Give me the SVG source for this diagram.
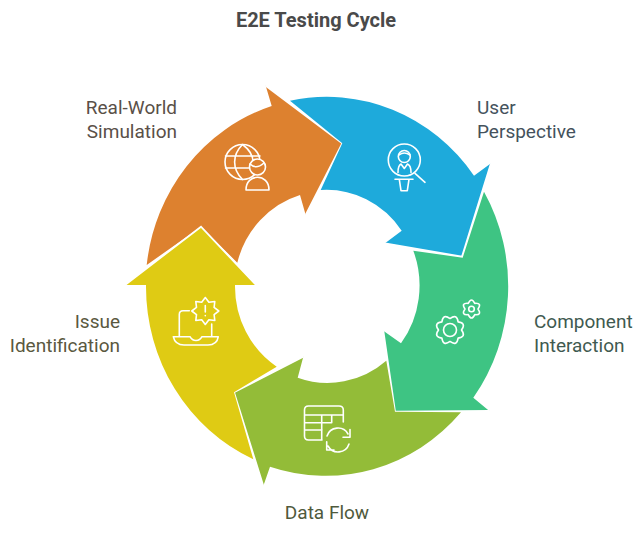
<svg xmlns="http://www.w3.org/2000/svg" width="640" height="535" viewBox="0 0 640 535">
<style>
text{font-family:Roboto,"Liberation Sans",sans-serif;font-size:19px}
.h{fill:none;stroke:#fff;stroke-width:1.8;stroke-linejoin:miter}
.i{fill:none;stroke:#fff;stroke-width:1.6;stroke-linecap:round;stroke-linejoin:round}
</style>
<rect width="640" height="535" fill="#fff"/>
<text x="316" y="27" text-anchor="middle" style="font-size:20px;font-weight:700" fill="#4a4a4a">E2E Testing Cycle</text>
<g id="connectors"/>
<g id="real-world">
<path fill="#dd812f" d="M146.700 265A181 189 0 0 1 271.700 106L265.700 85.700L342.300 143.300L305.700 215L300 195A92 96 0 0 0 237.300 262.700L201 226.700Z"/>
<path class="h" d="M265.700 85.700L342.300 143.300L305.700 215"/>
<g class="i"><circle cx="242.500" cy="162" r="17.500"/><path d="M242.500 144.500C232 155 232 169 242.500 179.500M242.500 144.500C250 150 253 157 253 162M225.500 156H260M225.500 168H250"/><circle cx="257.500" cy="167" r="8" fill="#dd812f"/><path d="M250 164Q256 170 264 163"/><path d="M246 190C246 173 269 173 269 190Z" fill="#dd812f"/></g>
<text x="177" y="114" text-anchor="end" fill="#5a5048">Real-World</text>
<text x="177" y="138" text-anchor="end" fill="#5a5048">Simulation</text>
</g>
<g id="user-perspective">
<path fill="#1eaadb" d="M290 100.700A181 189 0 0 1 474 175.700L491 163.300L462 256.700L385 243.300L401.700 230.700A92 96 0 0 0 320.700 190L342.300 143.300Z"/>
<path class="h" d="M491 163.300L462 256.700L385 243.300"/>
<g class="i"><circle cx="404.300" cy="160" r="16"/><path d="M415 173.300L425 182.300"/><circle cx="404.300" cy="156.500" r="6"/><path d="M399 155Q404 151 410 155M398 172.500C398 167 399 165 401 164L404.300 168.500L407.500 164C410 165 411 167 411 172.500M395 179.300H413M399.300 179.300L401 190.700H407.300L409 179.300"/></g>
<text x="477" y="114" fill="#44525c">User</text>
<text x="477" y="138" fill="#44525c">Perspective</text>
</g>
<g id="component">
<path fill="#3ec483" d="M484 191.700A181 189 0 0 1 473.300 397.700L489.300 411L395 411.700L383.300 330.700L401 343.300A92 96 0 0 0 413.300 250.700L462.700 257.700Z"/>
<path class="h" d="M489.300 411L395 411.700L383.300 330.700"/>
<g class="i"><circle cx="450" cy="330" r="6.500"/><path transform="translate(450 330) rotate(22.500)" d="M10.600 -4.400Q18 0 10.600 4.400Q12.700 12.700 4.400 10.600Q0 18 -4.400 10.600Q-12.700 12.700 -10.600 4.400Q-18 0 -10.600 -4.400Q-12.700 -12.700 -4.400 -10.600Q0 -18 4.400 -10.600Q12.700 -12.700 10.600 -4.400Z"/><circle cx="471.500" cy="309" r="2.800"/><path transform="translate(471.500 309)" d="M6.500 0Q10.800 6.250 3.250 5.630Q0 12.500 -3.250 5.630Q-10.800 6.250 -6.500 0Q-10.800 -6.250 -3.250 -5.630Q0 -12.500 3.250 -5.630Q10.800 -6.250 6.500 0Z"/></g>
<text x="534" y="328" fill="#3f5a50">Component</text>
<text x="534" y="352" fill="#3f5a50">Interaction</text>
</g>
<g id="data-flow">
<path fill="#93bc38" d="M234 392.300L303.300 356.700L297.700 377.700A92 96 0 0 0 386.300 360.700L395 411.700L461 412.300A181 189 0 0 1 270 466.700L263.300 486Z"/>
<path class="h" d="M303.300 356.700L234 392.300L263.300 486"/>
<g class="i"><path d="M322 440H308.500Q304.500 440 304.500 436V410Q304.500 406 308.500 406H339Q343.300 406 343.300 410V422M304.500 415H343.300M304.500 422.700H331M304.500 430H322M321.700 415V440M331.700 415V422.700"/><path d="M327 436A11.500 11.500 0 0 1 348 434M350 429.500V437.300H343M349 444A11.500 11.500 0 0 1 328 446M326.700 441.700V450H334"/></g>
<text x="327" y="519" text-anchor="middle" fill="#4f5a3c">Data Flow</text>
</g>
<g id="issue">
<path fill="#dfcb14" d="M201 226.700L256 285H235A92 96 0 0 0 276.700 366.700L234 392.300L253.300 459.300A181 189 0 0 1 146 285H125Z"/>
<path class="h" d="M125 285L201 226.700L256 285"/>
<g class="i"><path d="M189.300 310.700H183Q179.300 310.700 179.300 314.500V336.700M211.700 324V336.700M173.300 336.700H190Q192 340.500 196 340.500Q200 340.500 202 336.700H218.300Q217 345 208 345H184Q175 345 173.300 336.700Z"/><path transform="translate(205.300 311)" d="M0 -13.500L3.600 -8.800L9.500 -9.500L8.800 -3.600L13.500 0L8.800 3.600L9.500 9.500L3.600 8.800L0 13.500L-3.600 8.800L-9.500 9.500L-8.800 3.600L-13.500 0L-8.800 -3.600L-9.500 -9.500L-3.600 -8.800ZM0 -5.500V1M0 4.500V4.800"/></g>
<text x="120" y="328" text-anchor="end" fill="#5a5840">Issue</text>
<text x="120" y="352" text-anchor="end" fill="#5a5840">Identification</text>
</g>
</svg>
